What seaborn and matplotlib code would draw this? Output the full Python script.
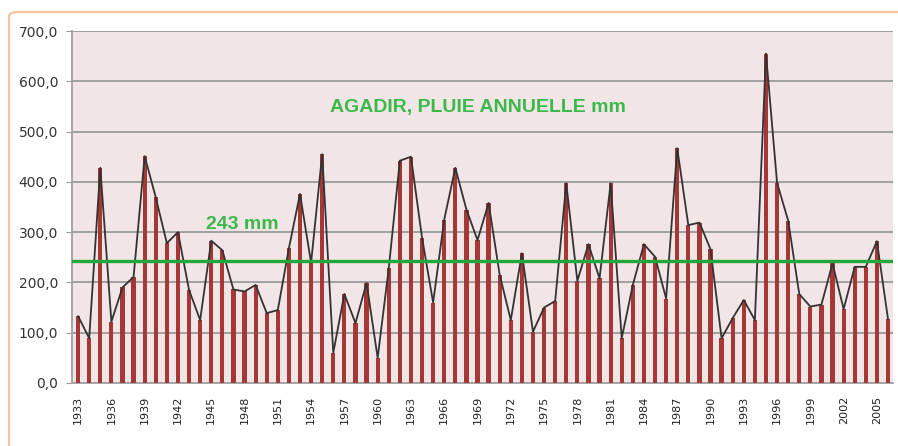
import matplotlib
matplotlib.use('Agg')
import matplotlib.pyplot as plt
from matplotlib.patches import FancyBboxPatch
import numpy as np
import pandas as pd
import seaborn as sns

# annual rainfall at Agadir, mm
years = list(range(1933, 2007))
rain = [133, 89, 428, 122, 190, 211, 451, 369, 278, 300,
        185, 125, 283, 264, 186, 182, 195, 139, 145, 268,
        376, 239, 455, 60, 177, 119, 199, 50, 228, 442,
        450, 289, 160, 325, 428, 345, 284, 358, 215, 125,
        258, 102, 150, 163, 397, 203, 276, 208, 397, 89,
        195, 276, 251, 168, 467, 314, 319, 266, 89, 129,
        165, 125, 655, 398, 323, 177, 152, 156, 238, 147,
        231, 231, 282, 127]
mean_rain = 243
title = 'AGADIR, PLUIE ANNUELLE mm'
mean_label = '243 mm'

df = pd.DataFrame({'year': years, 'rain': rain})

sns.set_style('white')
plt.rcParams['font.family'] = ['DejaVu Sans']

fig = plt.figure(figsize=(8.98, 4.46), dpi=100)
ax = fig.add_axes([72 / 898, 1 - 383 / 446, 821 / 898, 352 / 446])
ax.set_facecolor('#F1E5E5')

# outer chart frame (orange, runs off the right/bottom edges)
frame = FancyBboxPatch((9 / 898, -0.1), 1.2, 1.1 - 12 / 446,
                       boxstyle='round,pad=0,rounding_size=0.01',
                       transform=fig.transFigure, fill=False,
                       edgecolor='#F5C49C', linewidth=1.6, zorder=0)
fig.patches.append(frame)

# bars
sns.barplot(data=df, x='year', y='rain', color='#A63737', saturation=1,
            width=0.38, linewidth=0, edgecolor='none', ax=ax, zorder=3)
# line over the bars
sns.lineplot(x=np.arange(len(df)), y=df['rain'], color='#333333',
             linewidth=1.3, ax=ax, zorder=4)
# mean line
ax.axhline(mean_rain, color='#22A83A', linewidth=2.4, zorder=5)

ax.set_ylim(0, 700)
ax.set_xlim(-0.55, len(df) - 0.55)
ax.set_yticks(np.arange(0, 701, 100))
ax.set_yticklabels(['{:.1f}'.format(v).replace('.', ',') for v in range(0, 701, 100)],
                   fontsize=10, color='#333333')
ticks = list(range(0, len(df), 3))
ax.set_xticks(ticks)
ax.set_xticklabels([str(years[i]) for i in ticks], rotation=90,
                   fontsize=8, color='#222222')
ax.tick_params(axis='x', length=0, pad=9)
ax.tick_params(axis='y', length=4, color='#9A9A9A', pad=6, left=True)

ax.yaxis.grid(True, color='#9A9A9A', linewidth=1.3, zorder=1)
ax.set_axisbelow(True)
for s in ['top', 'right']:
    ax.spines[s].set_visible(False)
for s in ['left', 'bottom']:
    ax.spines[s].set_color('#A0A0A0')
    ax.spines[s].set_linewidth(1.3)
ax.set_xlabel('')
ax.set_ylabel('')

ax.text(0.4945, 0.784, title, transform=ax.transAxes, ha='center', va='center',
        fontsize=14, fontweight='bold', color='#3CB94B',
        family=['Liberation Sans', 'DejaVu Sans'], zorder=6)
ax.text(0.207, 0.450, mean_label, transform=ax.transAxes, ha='center', va='center',
        fontsize=14, fontweight='bold', color='#3CB94B',
        family=['Liberation Sans', 'DejaVu Sans'], zorder=6)

plt.savefig('out.png', dpi=100)
